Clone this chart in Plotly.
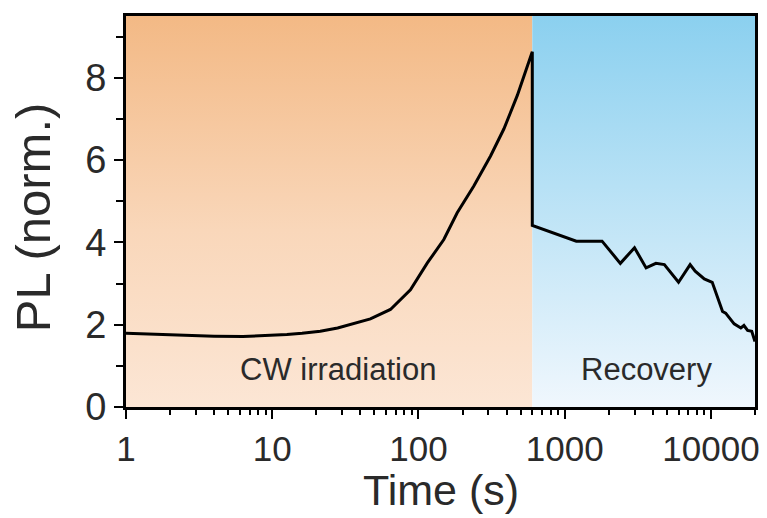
import plotly.graph_objects as go
import math

# --- data ---
irr_t = [1, 1.6, 2.6, 4, 6.3, 9, 12.6, 16, 21.3, 28, 36, 46.9, 64.3, 88.1, 115, 149, 184, 239, 311, 384, 474, 600]
irr_pl = [1.79, 1.76, 1.73, 1.72, 1.71, 1.73, 1.76, 1.79, 1.84, 1.92, 2.02, 2.14, 2.37, 2.85, 3.50, 4.07, 4.72, 5.37, 6.10, 6.76, 7.57, 8.63]
rec_t = [600, 1200, 1800, 2400, 3000, 3600, 4200, 4800, 6000, 7200, 7800, 9000, 10200, 12000, 12600, 14400, 16000, 16800, 17800, 19000, 20000]
rec_pl = [4.41, 4.03, 4.03, 3.49, 3.87, 3.38, 3.49, 3.46, 3.03, 3.46, 3.30, 3.11, 3.03, 2.32, 2.28, 2.02, 1.92, 1.98, 1.86, 1.84, 1.59]

t_min, t_switch, t_max = 1, 600, 20000
y_max = 9.5
x_ticks = [1, 10, 100, 1000, 10000]
y_ticks = [0, 2, 4, 6, 8]
region_labels = ["CW irradiation", "Recovery"]

font_fam = "Liberation Sans, Arial, sans-serif"
narrow_fam = "Liberation Sans Narrow, Arial Narrow, Liberation Sans, sans-serif"
txt_col = "#2a2a2a"

fig = go.Figure()

# gradient backgrounds
fig.add_trace(go.Scatter(
    x=[t_min, t_switch, t_switch, t_min, t_min], y=[0, 0, y_max, y_max, 0],
    mode="lines", line=dict(width=0), fill="toself",
    fillgradient=dict(type="vertical", colorscale=[[0, "#FCE6D5"], [0.45, "#F9D7BA"], [1, "#F3B985"]],
                      start=0, stop=y_max),
    hoverinfo="skip", showlegend=False))
fig.add_trace(go.Scatter(
    x=[t_switch, t_max, t_max, t_switch, t_switch], y=[0, 0, y_max, y_max, 0],
    mode="lines", line=dict(width=0), fill="toself",
    fillgradient=dict(type="vertical", colorscale=[[0, "#F0F7FD"], [1, "#8BD0EF"]],
                      start=0, stop=y_max),
    hoverinfo="skip", showlegend=False))

# data line
fig.add_trace(go.Scatter(
    x=irr_t + rec_t, y=irr_pl + rec_pl, mode="lines",
    line=dict(color="black", width=3), showlegend=False))

fig.add_annotation(x=math.log10(math.sqrt(t_min * t_switch)) + 0.06, y=0.9, text=region_labels[0],
                   showarrow=False, font=dict(family=font_fam, size=31, color=txt_col))
fig.add_annotation(x=math.log10(math.sqrt(t_switch * t_max)) + 0.02, y=0.92, text=region_labels[1],
                   showarrow=False, font=dict(family=font_fam, size=31, color=txt_col))

# axis titles
fig.add_annotation(xref="paper", yref="paper", x=-0.148, y=0.485, xanchor="center", yanchor="middle",
                   text="PL (norm.)", textangle=-90, showarrow=False,
                   font=dict(family=font_fam, size=49, color=txt_col))
fig.add_annotation(xref="paper", yref="paper", x=0.5, y=-0.211, xanchor="center", yanchor="middle",
                   text="Time (s)", showarrow=False, borderpad=0,
                   font=dict(family=font_fam, size=43, color=txt_col))

fig.update_layout(
    width=767, height=518,
    margin=dict(l=126, r=12, t=16, b=111),
    paper_bgcolor="white", plot_bgcolor="white",
    font=dict(family=font_fam, color=txt_col),
    xaxis=dict(type="log", range=[math.log10(t_min), math.log10(t_max)], automargin=False,
               tickvals=x_ticks, ticktext=[str(v) for v in x_ticks],
               ticks="outside", ticklen=9, tickwidth=2, tickcolor="black",
               showline=True, linewidth=3, linecolor="black", mirror=True,
               showgrid=False, zeroline=False,
               tickfont=dict(family=narrow_fam, size=35, color=txt_col),
               minor=dict(ticks="outside", ticklen=5, tickwidth=2, tickcolor="black",
                          dtick="D1", showgrid=False)),
    yaxis=dict(range=[0, y_max], tickvals=y_ticks, automargin=False,
               ticks="outside", ticklen=9, tickwidth=2, tickcolor="black",
               showline=True, linewidth=3, linecolor="black", mirror=True,
               showgrid=False, zeroline=False,
               tickfont=dict(family=narrow_fam, size=38, color=txt_col),
               minor=dict(ticks="outside", ticklen=7, tickwidth=2, tickcolor="black",
                          dtick=1, showgrid=False)),
)

fig.write_html("out.html")
